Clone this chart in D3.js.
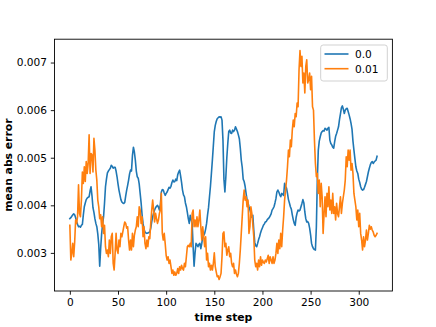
<!DOCTYPE html>
<html><head><meta charset="utf-8">
<script src="https://cdn.jsdelivr.net/npm/d3@7"></script>
<style>body{margin:0;background:#fff}svg{display:block}text{font-family:"DejaVu Sans",sans-serif}</style>
</head><body>
<svg id="chart" width="436" height="327"></svg>
<script>
const seriesNames = ["0.0", "0.01"];
const xTicks = [0, 50, 100, 150, 200, 250, 300];
const yTicks = [0.003, 0.004, 0.005, 0.006, 0.007];
const yTickLabels = ["0.003", "0.004", "0.005", "0.006", "0.007"];
// values in units of 1e-3
const noise00 = [
3.72,3.74,3.77,3.80,3.82,3.80,3.74,3.66,3.60,3.55,3.56,3.54,3.58,3.60,3.80,3.97,4.05,4.12,4.15,4.17,
4.18,4.30,4.39,4.20,3.95,3.85,3.72,3.62,3.55,3.40,3.18,2.72,3.10,3.40,3.60,3.76,4.05,4.39,4.55,4.68,
4.72,4.75,4.78,4.84,4.82,4.78,4.80,4.80,4.72,4.60,4.45,4.32,4.22,4.12,4.07,4.05,4.04,4.06,4.20,4.32,
4.42,4.53,4.66,4.74,4.72,5.05,5.22,5.12,4.95,4.72,4.60,4.57,4.45,4.25,4.05,3.80,3.62,3.50,3.44,3.42,
3.41,3.42,3.43,3.44,3.52,3.65,3.76,3.84,3.90,3.95,3.98,4.00,3.96,3.90,4.02,4.28,4.33,4.32,4.26,4.21,
4.25,4.28,4.33,4.38,4.36,4.40,4.48,4.53,4.49,4.50,4.55,4.52,4.64,4.70,4.74,4.62,4.48,4.32,4.22,4.18,
4.05,3.97,3.85,3.72,3.62,3.79,3.70,3.62,3.13,2.72,3.00,3.20,3.17,3.13,3.18,3.20,3.09,3.20,3.34,3.37,
3.41,3.50,3.62,3.80,3.95,4.18,4.40,4.67,4.95,5.25,5.55,5.68,5.76,5.82,5.84,5.86,5.85,5.86,5.79,5.37,
4.55,4.28,4.60,5.00,5.30,5.55,5.58,5.52,5.51,5.58,5.55,5.58,5.65,5.60,5.55,5.48,5.40,5.20,4.95,4.80,
4.55,4.50,4.40,4.25,4.12,4.05,3.97,3.90,3.83,3.75,3.79,3.48,3.22,3.15,3.13,3.20,3.28,3.34,3.42,3.48,
3.53,3.58,3.61,3.65,3.66,3.70,3.72,3.74,3.78,3.82,3.90,3.93,3.97,4.05,4.14,4.28,4.32,4.28,4.22,4.18,
4.25,4.23,4.21,4.46,4.40,4.36,4.25,4.12,4.05,3.97,3.92,3.80,3.70,3.62,3.58,3.75,3.84,3.90,3.88,3.90,
3.97,4.04,4.12,4.05,3.86,3.72,3.65,3.66,3.62,3.52,3.38,3.20,3.13,3.09,3.07,3.06,3.55,4.55,5.16,5.35,
5.44,5.52,5.55,5.57,5.56,5.62,5.60,5.58,5.62,5.64,5.37,5.30,5.27,5.22,5.20,5.34,5.45,5.51,5.58,5.65,
5.80,5.92,6.05,6.09,6.02,5.93,6.00,6.03,6.04,5.97,5.90,5.82,5.72,5.60,5.35,5.16,4.98,4.81,4.72,4.67,
4.55,4.48,4.39,4.34,4.32,4.33,4.38,4.44,4.50,4.60,4.70,4.78,4.85,4.90,4.92,4.88,4.91,4.93,4.95,5.03
];
const noise001 = [
3.58,2.85,2.99,3.20,2.92,3.23,3.69,3.62,3.76,4.43,3.83,3.76,4.11,4.70,4.46,4.81,4.50,4.92,4.67,4.88,
5.48,4.67,5.09,5.06,4.70,5.41,5.16,4.74,4.53,4.11,3.97,3.72,3.80,3.55,3.76,3.41,3.58,3.13,2.99,3.06,
2.92,3.27,2.99,3.34,3.41,2.78,2.64,2.99,3.41,3.06,2.99,3.27,3.13,3.41,3.34,3.44,3.55,3.65,3.62,3.52,
3.55,3.27,3.06,3.27,3.06,3.41,3.13,3.37,3.48,3.55,3.76,3.55,3.97,3.90,3.62,3.76,3.34,3.55,3.20,3.09,
3.27,3.13,3.34,3.30,3.62,3.90,4.11,3.90,3.65,3.83,3.72,3.62,3.69,3.83,3.90,4.25,3.41,3.27,3.41,3.20,
2.95,2.85,2.92,2.78,2.85,2.71,2.57,2.64,2.53,2.60,2.53,2.57,2.67,2.57,2.71,2.64,2.74,2.67,2.64,2.78,
2.71,2.92,3.13,3.16,3.13,3.20,3.13,3.83,3.90,3.55,3.69,3.55,3.76,3.55,3.69,3.90,3.55,3.27,3.55,3.34,
3.13,3.34,2.85,2.99,2.71,2.78,2.64,2.74,2.64,2.78,3.00,2.71,2.60,2.50,2.52,2.44,2.50,2.57,2.92,3.41,
3.44,3.13,3.20,2.95,3.06,3.13,2.92,2.99,2.78,2.71,2.78,2.57,2.64,2.55,2.50,2.57,2.78,3.06,3.41,3.76,
4.11,4.32,4.11,4.18,3.97,4.11,3.41,3.55,3.97,3.83,3.60,3.34,2.85,2.71,2.78,2.64,2.85,2.71,2.92,2.74,
2.85,2.80,2.78,2.85,2.81,2.88,2.95,2.78,2.92,2.85,2.78,2.92,2.78,2.85,2.99,3.20,2.99,3.27,3.09,3.41,
3.13,3.48,3.76,4.11,4.32,4.53,4.81,5.16,5.02,5.37,5.23,5.58,5.79,5.65,5.93,5.86,6.15,6.07,6.85,7.25,
6.92,7.13,6.57,6.78,6.36,6.92,7.06,6.57,6.64,6.78,6.43,6.71,6.07,6.00,5.37,4.88,4.60,4.67,4.25,4.53,
3.97,4.46,4.18,3.41,3.83,4.18,3.76,4.25,3.97,4.39,3.90,4.11,3.83,4.25,3.83,3.97,3.69,4.04,3.83,3.76,
3.97,4.18,3.83,4.04,4.18,4.32,4.53,5.02,4.81,5.16,4.95,5.16,4.74,4.88,4.67,4.25,4.11,3.97,3.69,3.90,
3.55,3.83,3.41,3.27,3.06,3.34,3.13,3.27,3.48,3.27,3.41,3.58,3.50,3.55,3.48,3.44,3.37,3.34,3.37,3.41
];
const colors = ["#1f77b4", "#ff7f0e"];

const W = 436, H = 327;
const m = {left: 54.5, right: 392.4, top: 39.2, bottom: 291};
const svg = d3.select("#chart");
const series = [noise00, noise001].map(a => a.map(v => v / 1000));
const n = noise00.length;
const xPad = (n - 1) * 0.05;
const x = d3.scaleLinear().domain([-xPad, (n - 1) + xPad]).range([m.left, m.right]);
const allV = series.flat();
const yMin = d3.min(allV), yMax = d3.max(allV), yPad = (yMax - yMin) * 0.05;
const y = d3.scaleLinear().domain([yMin - yPad, yMax + yPad]).range([m.bottom, m.top]);

const clip = svg.append("clipPath").attr("id", "clip").append("rect")
  .attr("x", m.left).attr("y", m.top).attr("width", m.right - m.left).attr("height", m.bottom - m.top);

const line = d3.line().x((d, i) => x(i)).y(d => y(d));
const g = svg.append("g").attr("clip-path", "url(#clip)");
series.forEach((s, k) => {
  g.append("path").datum(s).attr("d", line).attr("fill", "none")
    .attr("stroke", colors[k]).attr("stroke-width", 1.6).attr("stroke-linejoin", "round").attr("stroke-linecap", "square");
});

// axes
const xAxis = d3.axisBottom(x).tickValues(xTicks).tickSize(3.7).tickPadding(3.8).tickFormat(d3.format("d"));
const yAxis = d3.axisLeft(y).tickValues(yTicks).tickSize(3.7).tickPadding(3.8).tickFormat((d, i) => yTickLabels[i]);
const gx = svg.append("g").attr("transform", `translate(0,${m.bottom})`).call(xAxis);
const gy = svg.append("g").attr("transform", `translate(${m.left},0)`).call(yAxis);
[gx, gy].forEach(a => {
  a.select(".domain").remove();
  a.selectAll("line").attr("stroke", "#000").attr("stroke-width", 0.9);
  a.selectAll("text").attr("font-size", "10.6px").attr("fill", "#000").attr("font-family", "DejaVu Sans");
});
// frame
svg.append("rect").attr("x", m.left).attr("y", m.top).attr("width", m.right - m.left).attr("height", m.bottom - m.top)
  .attr("fill", "none").attr("stroke", "#000").attr("stroke-width", 0.9);

svg.append("text").attr("x", (m.left + m.right) / 2).attr("y", 320.5).attr("text-anchor", "middle")
  .attr("font-size", "10.8px").attr("font-weight", "bold").text("time step");
svg.append("text").attr("transform", `translate(12,${(m.top + m.bottom) / 2}) rotate(-90)`).attr("text-anchor", "middle")
  .attr("font-size", "10.8px").attr("font-weight", "bold").text("mean abs error");

// legend
const lg = svg.append("g");
lg.append("rect").attr("x", 320.7).attr("y", 45).attr("width", 66.6).attr("height", 36).attr("rx", 2.5)
  .attr("fill", "#fff").attr("fill-opacity", 0.8).attr("stroke", "#cccccc").attr("stroke-width", 0.9);
seriesNames.forEach((nm, k) => {
  const yy = 54 + k * 14.7;
  lg.append("line").attr("x1", 324.5).attr("x2", 348.5).attr("y1", yy).attr("y2", yy)
    .attr("stroke", colors[k]).attr("stroke-width", 1.6);
  lg.append("text").attr("x", 355).attr("y", yy + 3.8).attr("font-size", "10.6px").text(nm);
});
</script>
</body></html>
